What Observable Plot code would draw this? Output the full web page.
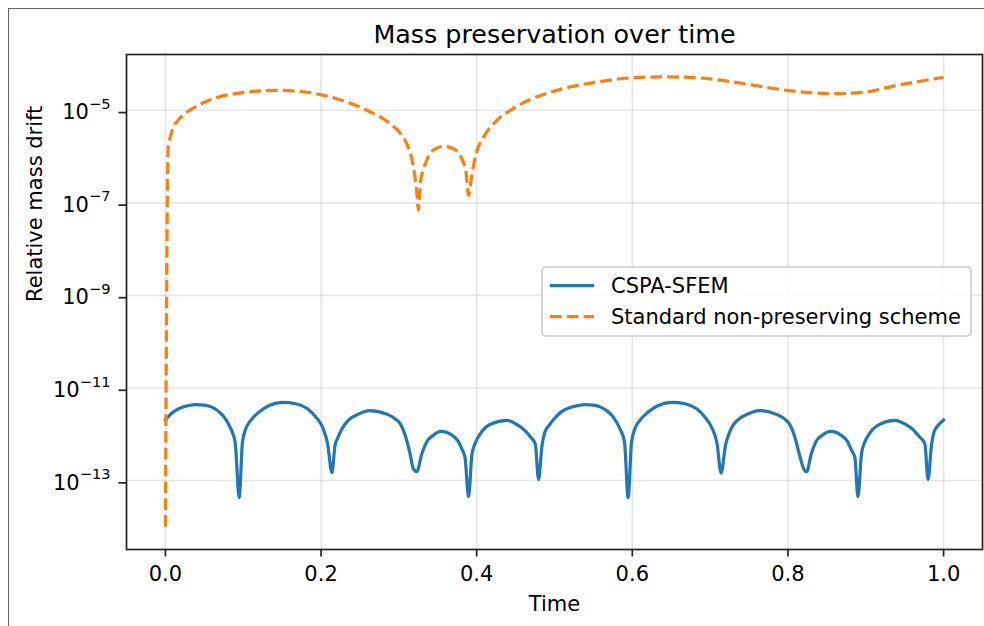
<!DOCTYPE html>
<html>
<head>
<meta charset="utf-8">
<script src="https://cdn.jsdelivr.net/npm/d3@7"></script>
<script src="https://cdn.jsdelivr.net/npm/@observablehq/plot@0.6"></script>
<style>
html, body { margin: 0; padding: 0; background: #fff; }
#wrap { position: relative; width: 984px; height: 626px; overflow: hidden; background: #fff; }
#wrap svg { display: block; }
#frame { position: absolute; left: 8px; top: 8px; right: -4px; bottom: -4px; border-left: 1px solid #666; border-top: 1px solid #666; pointer-events: none; }
</style>
</head>
<body>
<div id="wrap"></div>
<script>
// ---- data ----
const titleText = "Mass preservation over time";
const xLabel = "Time";
const yLabel = "Relative mass drift";
const seriesNames = ["CSPA-SFEM", "Standard non-preserving scheme"];
const seriesColors = ["#1f77b4", "#ff7f0e"];
const xTicks = [0.0, 0.2, 0.4, 0.6, 0.8, 1.0];
const yTicks = [1e-13, 1e-11, 1e-9, 1e-7, 1e-5];

const cspaTime = [
  0, 0.01, 0.02, 0.03, 0.039, 0.05, 0.0605, 0.07, 0.0755, 0.084, 0.0896, 0.0948,
  0.099, 0.1033, 0.1098, 0.1205, 0.1334, 0.1506, 0.1677, 0.1827, 0.1934, 0.202, 0.2085, 0.214,
  0.218, 0.2213, 0.2266, 0.2349, 0.2475, 0.262, 0.2852, 0.2978, 0.3016, 0.306, 0.3102, 0.3144, 0.3187, 0.323,
  0.3295, 0.3363, 0.3443, 0.354, 0.3682, 0.3762, 0.3815, 0.385, 0.3895,
  0.394, 0.3985, 0.403, 0.4093, 0.4183, 0.439, 0.4507, 0.4615, 0.4687, 0.4753, 0.4795,
  0.484, 0.4876, 0.4933, 0.5, 0.51, 0.52, 0.53, 0.5396, 0.55, 0.56, 0.57, 0.5755, 0.584, 0.59, 0.5946,
  0.599, 0.6033, 0.6098, 0.6205, 0.6334, 0.651, 0.6677, 0.6827, 0.6934, 0.702, 0.709, 0.714,
  0.72, 0.7266, 0.7349, 0.7475, 0.763, 0.7852, 0.7978, 0.8016, 0.806, 0.8102, 0.8144, 0.8206, 0.824,
  0.830, 0.8363, 0.8443, 0.855, 0.8682, 0.8762, 0.8815, 0.886, 0.890,
  0.8945, 0.8985, 0.903, 0.9093, 0.9183, 0.937, 0.9507, 0.9615, 0.9687, 0.976, 0.980,
  0.9845, 0.9876, 0.9933, 1.0
];
const cspaDrift = [
  2.04e-12, 3.02e-12, 3.72e-12, 4.17e-12, 4.37e-12, 4.27e-12, 3.80e-12, 2.95e-12, 2.34e-12, 1.32e-12, 6.76e-13, 4.27e-14,
  6.76e-13, 1.32e-12, 2.0e-12, 3.02e-12, 4.17e-12, 4.90e-12, 4.57e-12, 3.55e-12, 2.34e-12, 1.41e-12, 6.17e-13, 1.48e-13,
  5.75e-13, 8.13e-13, 1.29e-12, 2.0e-12, 2.69e-12, 3.24e-12, 2.69e-12, 2.0e-12, 1.70e-12, 1.20e-12, 7.24e-13, 3.80e-13, 1.78e-13, 1.55e-13,
  3.80e-13, 7.08e-13, 9.55e-13, 1.15e-12, 9.55e-13, 7.08e-13, 4.57e-13, 3.16e-13, 4.47e-14,
  3.80e-13, 6.61e-13, 9.33e-13, 1.29e-12, 1.66e-12, 2.0e-12, 1.66e-12, 1.23e-12, 8.91e-13, 6.17e-13, 1.05e-13,
  5.75e-13, 1.10e-12, 1.58e-12, 2.19e-12, 3.16e-12, 3.80e-12, 4.17e-12, 4.37e-12, 4.27e-12, 3.80e-12, 2.95e-12, 2.34e-12, 1.32e-12, 6.76e-13, 4.27e-14,
  6.76e-13, 1.32e-12, 2.0e-12, 3.02e-12, 4.17e-12, 4.90e-12, 4.57e-12, 3.55e-12, 2.34e-12, 1.41e-12, 6.17e-13, 1.45e-13,
  6.03e-13, 1.29e-12, 2.0e-12, 2.69e-12, 3.24e-12, 2.69e-12, 2.0e-12, 1.70e-12, 1.20e-12, 7.24e-13, 3.80e-13, 1.74e-13, 1.55e-13,
  3.80e-13, 7.08e-13, 9.55e-13, 1.15e-12, 9.55e-13, 7.08e-13, 4.57e-13, 3.16e-13, 4.47e-14,
  3.80e-13, 6.61e-13, 9.33e-13, 1.29e-12, 1.66e-12, 2.0e-12, 1.66e-12, 1.23e-12, 8.91e-13, 6.17e-13, 1.05e-13,
  5.75e-13, 1.10e-12, 1.58e-12, 2.04e-12
];

const stdTime = [
  0, 0.0036, 0.0064, 0.0095, 0.0184, 0.0355, 0.0656, 0.1042, 0.1429, 0.1815, 0.22, 0.2587, 0.2887,
  0.302, 0.310, 0.3187, 0.323, 0.3251, 0.3282, 0.336, 0.3444, 0.3573, 0.370, 0.381, 0.3865, 0.3895,
  0.394, 0.40, 0.4088, 0.426, 0.4474, 0.4775, 0.5117, 0.5547, 0.5976, 0.636, 0.675, 0.7134,
  0.756, 0.799, 0.838, 0.8636, 0.898, 0.9408, 1.0
];
const stdDrift = [
  1.0e-14, 1.66e-6, 2.69e-6, 3.98e-6, 6.61e-6, 1.10e-5, 1.86e-5, 2.45e-5, 2.69e-5, 2.45e-5, 1.78e-5, 1.0e-5, 5.13e-6,
  3.16e-6, 1.91e-6, 6.03e-7, 1.70e-7, 6.92e-8, 3.09e-7, 8.32e-7, 1.38e-6, 1.66e-6, 1.48e-6, 8.91e-7, 4.27e-7, 1.45e-7,
  4.27e-7, 1.26e-6, 2.63e-6, 6.03e-6, 1.10e-5, 1.95e-5, 2.95e-5, 4.07e-5, 5.01e-5, 5.25e-5, 5.13e-5, 4.47e-5,
  3.47e-5, 2.69e-5, 2.34e-5, 2.29e-5, 2.45e-5, 3.47e-5, 5.13e-5
];

// ---- tables built from the arrays ----
const cspa = cspaTime.map((t, i) => ({t, v: cspaDrift[i]}));
const std = stdTime.map((t, i) => ({t, v: stdDrift[i]}));

const FONT = "'DejaVu Sans', 'Liberation Sans', sans-serif";
const AXIS = "#222";
const FS = 21;
const fmtY = d => "10^" + String(Math.round(Math.log10(d))).replace("-", "\u2212");

const plot = Plot.plot({
  width: 984,
  height: 626,
  marginLeft: 126,
  marginRight: 2,
  marginTop: 54,
  marginBottom: 77,
  style: {fontFamily: FONT, fontSize: FS + "px", color: "#000", background: "#fff"},
  x: {domain: [-0.05, 1.05], label: null},
  y: {type: "log", domain: [Math.pow(10, -14.49), Math.pow(10, -3.795)], label: null},
  marks: [
    Plot.gridX(xTicks, {stroke: "#b0b0b0", strokeOpacity: 0.32, strokeWidth: 1.6}),
    Plot.gridY(yTicks, {stroke: "#b0b0b0", strokeOpacity: 0.32, strokeWidth: 1.6}),
    Plot.line(cspa, {x: "t", y: "v", stroke: seriesColors[0], strokeWidth: 3.2, curve: "monotone-x", strokeLinecap: "square", strokeLinejoin: "round"}),
    Plot.line(std, {x: "t", y: "v", stroke: seriesColors[1], strokeWidth: 3.2, curve: "monotone-x", strokeDasharray: "11.7,5.1", strokeLinecap: "butt", strokeLinejoin: "round"}),
    Plot.frame({stroke: AXIS, strokeWidth: 1.7}),
    Plot.axisX(xTicks, {tickSize: 7.5, tickPadding: 9.5, stroke: AXIS, strokeWidth: 1.7, tickFormat: d3.format(".1f"), label: null, fontSize: FS}),
    Plot.axisY(yTicks, {tickSize: 7.5, tickPadding: 8.5, stroke: AXIS, strokeWidth: 1.7, tickFormat: fmtY, label: null, fontSize: FS, dy: 2.3}),
    Plot.text([titleText], {text: d => d, frameAnchor: "top", lineAnchor: "bottom", dy: -11.5, fontSize: 25.4, fill: "#000"}),
    Plot.text([xLabel], {text: d => d, frameAnchor: "bottom", lineAnchor: "bottom", dy: 61, fontSize: FS, fill: "#000"}),
    Plot.text([yLabel], {text: d => d, frameAnchor: "left", lineAnchor: "bottom", rotate: -90, dx: -84.5, fontSize: FS, fill: "#000"})
  ]
});

const svg = d3.select(plot);

// superscript exponents on the log-axis labels
svg.selectAll('g[aria-label="y-axis tick label"] text').each(function () {
  const parts = this.textContent.split("^");
  this.textContent = "";
  const t = d3.select(this);
  t.append("tspan").text(parts[0]);
  t.append("tspan").attr("font-size", "14.6px").attr("dy", "-10.5").text(parts[1]);
});

// legend (matplotlib-style box)
const lg = svg.append("g")
  .attr("font-family", FONT).attr("font-size", FS + "px")
  .attr("text-anchor", "start");
lg.append("rect").attr("x", 542).attr("y", 267).attr("width", 429).attr("height", 69)
  .attr("rx", 4).attr("fill", "#fff").attr("fill-opacity", 0.8)
  .attr("stroke", "#cccccc").attr("stroke-width", 1.6);
const rowsY = [285.7, 316.7];
seriesNames.forEach((name, i) => {
  const ln = lg.append("line").attr("x1", 550).attr("x2", 594).attr("y1", rowsY[i]).attr("y2", rowsY[i])
    .attr("stroke", seriesColors[i]).attr("stroke-width", 3.2).attr("fill", "none");
  if (i === 1) ln.attr("stroke-dasharray", "11.7,5.1");
  lg.append("text").attr("x", 611).attr("y", rowsY[i] + 7.4).attr("fill", "#000")
    .attr("text-anchor", "start").text(name);
});

const wrap = document.getElementById("wrap");
wrap.appendChild(plot);
const fr = document.createElement("div");
fr.id = "frame";
wrap.appendChild(fr);
</script>
</body>
</html>
